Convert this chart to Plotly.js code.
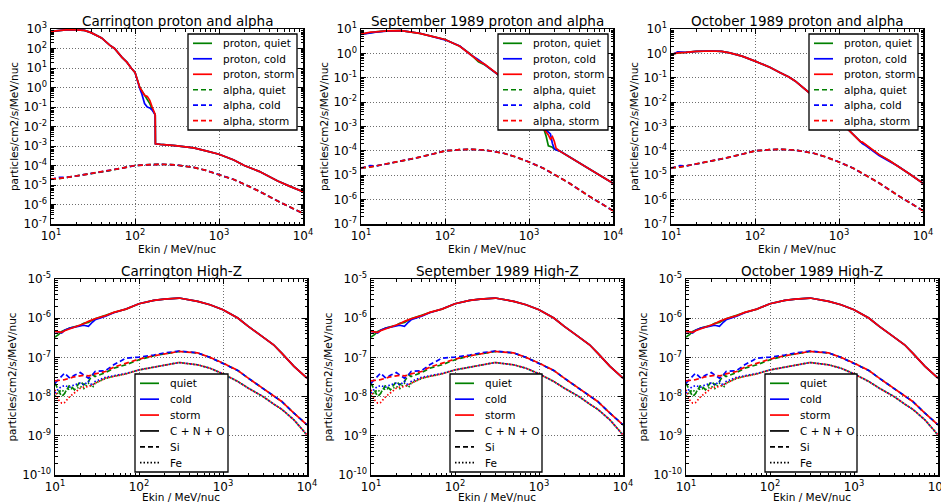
<!DOCTYPE html>
<html><head><meta charset="utf-8">
<script src="https://cdn.plot.ly/plotly-3.0.1.min.js"></script>
<style>html,body{margin:0;padding:0;background:#fff}#chart{width:941px;height:503px}</style>
</head><body><div id="chart"></div>
<script>
// ---------- DATA ----------
var panelTitles = ['Carrington proton and alpha', 'September 1989 proton and alpha', 'October 1989 proton and alpha',
                   'Carrington High-Z', 'September 1989 High-Z', 'October 1989 High-Z'];
var xTickVals = [10, 100, 1000, 10000];
var xTickText = ['10<sup>1</sup>', '10<sup>2</sup>', '10<sup>3</sup>', '10<sup>4</sup>'];
var yTickValsC = [1e-7, 1e-6, 1e-5, 1e-4, 1e-3, 1e-2, 1e-1, 1, 10, 100, 1000];
var yTickTextC = ['10<sup>-7</sup>', '10<sup>-6</sup>', '10<sup>-5</sup>', '10<sup>-4</sup>', '10<sup>-3</sup>', '10<sup>-2</sup>', '10<sup>-1</sup>', '10<sup>0</sup>', '10<sup>1</sup>', '10<sup>2</sup>', '10<sup>3</sup>'];
var yTickValsSO = [1e-7, 1e-6, 1e-5, 1e-4, 1e-3, 1e-2, 1e-1, 1, 10];
var yTickTextSO = ['10<sup>-7</sup>', '10<sup>-6</sup>', '10<sup>-5</sup>', '10<sup>-4</sup>', '10<sup>-3</sup>', '10<sup>-2</sup>', '10<sup>-1</sup>', '10<sup>0</sup>', '10<sup>1</sup>'];
var yTickValsZ = [1e-10, 1e-9, 1e-8, 1e-7, 1e-6, 1e-5];
var yTickTextZ = ['10<sup>-10</sup>', '10<sup>-9</sup>', '10<sup>-8</sup>', '10<sup>-7</sup>', '10<sup>-6</sup>', '10<sup>-5</sup>'];
var legendLabelsTop = ['proton, quiet', 'proton, cold', 'proton, storm', 'alpha, quiet', 'alpha, cold', 'alpha, storm'];
var legendLabelsBottom = ['quiet', 'cold', 'storm', 'C + N + O', 'Si', 'Fe'];

// alpha (all three events)
var EA = [10, 11, 12, 13, 15, 20, 30, 50, 70, 100, 150, 200, 300, 500, 700, 1000, 1500, 2000, 3000, 5000, 7000, 10000];
var alphaQuiet = [2.0e-5, 2.0e-5, 2.1e-5, 2.2e-5, 2.4e-5, 2.9e-5, 3.8e-5, 5.5e-5, 7.3e-5, 1.0e-4, 1.12e-4, 1.16e-4, 1.08e-4, 8.0e-5, 5.6e-5, 3.5e-5, 1.9e-5, 1.1e-5, 4.8e-6, 1.5e-6, 7.5e-7, 3.5e-7];
var alphaCold  = [1.9e-5, 2.2e-5, 2.4e-5, 2.5e-5, 2.4e-5, 2.9e-5, 3.8e-5, 5.5e-5, 7.3e-5, 1.0e-4, 1.12e-4, 1.16e-4, 1.08e-4, 8.0e-5, 5.6e-5, 3.5e-5, 1.9e-5, 1.1e-5, 4.8e-6, 1.5e-6, 7.5e-7, 3.5e-7];
var alphaStorm = [2.0e-5, 2.05e-5, 2.1e-5, 2.2e-5, 2.4e-5, 2.9e-5, 3.8e-5, 5.5e-5, 7.3e-5, 1.0e-4, 1.12e-4, 1.16e-4, 1.08e-4, 8.0e-5, 5.6e-5, 3.5e-5, 1.9e-5, 1.1e-5, 4.8e-6, 1.5e-6, 7.5e-7, 3.5e-7];

// Carrington protons
var EpC = [10, 12, 15, 20, 25, 30, 40, 50, 57, 70, 80, 90, 100, 114, 120, 130, 140, 150, 160, 168, 174, 175, 200, 300, 500, 700, 1000, 1500, 2000, 3000, 5000, 7000, 10000];
var pCQuiet = [760, 850, 900, 900, 850, 650, 350, 150, 100, 35, 20, 10, 6, 1.0, 0.7, 0.45, 0.28, 0.15, 0.08, 0.05, 0.04, 0.0013, 0.0012, 0.00105, 0.0008, 0.00056, 0.00038, 0.00019, 0.0001, 5e-5, 1.6e-5, 8.5e-6, 4.5e-6];
var pCCold  = [760, 850, 900, 900, 850, 650, 350, 150, 100, 35, 20, 10, 6, 0.9, 0.5, 0.15, 0.1, 0.09, 0.07, 0.05, 0.04, 0.0013, 0.0012, 0.00105, 0.0008, 0.00056, 0.00038, 0.00019, 0.0001, 5e-5, 1.6e-5, 8.5e-6, 4.5e-6];
var pCStorm = [760, 850, 900, 900, 850, 650, 350, 150, 100, 35, 20, 10, 6, 1.0, 0.7, 0.4, 0.35, 0.22, 0.1, 0.05, 0.04, 0.0013, 0.0012, 0.00105, 0.0008, 0.00056, 0.00038, 0.00019, 0.0001, 5e-5, 1.6e-5, 8.5e-6, 4.5e-6];

// September 1989 protons
var EpS = [10, 13, 15, 20, 30, 50, 70, 100, 150, 200, 250, 300, 400, 500, 700, 1000, 1300, 1500, 1600, 1700, 1800, 1900, 2000, 2100, 2300, 5000, 10000];
var pSQuiet = [6.2, 7.3, 7.6, 8.3, 8.5, 6.6, 5.0, 3.7, 1.95, 0.95, 0.45, 0.33, 0.16, 0.09, 0.03, 0.006, 0.0017, 0.0008, 0.0004, 0.00016, 0.00015, 0.00014, 0.00012, 0.00011, 0.0001, 2e-5, 4.7e-6];
var pSCold  = [6.0, 7.0, 7.5, 8.2, 8.6, 6.7, 5.0, 3.6, 2.0, 0.9, 0.55, 0.33, 0.16, 0.09, 0.03, 0.006, 0.0017, 0.0008, 0.0007, 0.0006, 0.0005, 0.0002, 0.00012, 0.00011, 0.0001, 2e-5, 4.7e-6];
var pSStorm = [6.2, 7.5, 7.6, 8.3, 8.5, 6.6, 5.0, 3.7, 1.95, 0.95, 0.5, 0.35, 0.16, 0.09, 0.03, 0.006, 0.0017, 0.0008, 0.0006, 0.00045, 0.0003, 0.00038, 0.00025, 0.00013, 0.0001, 2e-5, 4.7e-6];

// October 1989 protons
var EpO = [10, 12, 15, 20, 30, 40, 50, 70, 100, 150, 200, 250, 300, 400, 500, 700, 1000, 1200, 1500, 1800, 1900, 2000, 2500, 3000, 4000, 5000, 7000, 10000];
var pOQuiet = [0.9, 1.05, 1.1, 1.2, 1.25, 1.2, 1.05, 0.77, 0.48, 0.27, 0.16, 0.11, 0.074, 0.033, 0.017, 0.006, 0.0018, 0.0009, 0.00042, 0.00024, 0.00021, 0.00019, 0.00011, 7e-5, 3.9e-5, 2.4e-5, 1.1e-5, 4.7e-6];
var pOCold  = [0.85, 1.15, 1.1, 1.2, 1.25, 1.2, 1.05, 0.77, 0.48, 0.27, 0.16, 0.11, 0.074, 0.033, 0.017, 0.006, 0.0018, 0.0009, 0.00042, 0.00024, 0.0002, 0.00018, 0.0001, 6.5e-5, 3.7e-5, 2.4e-5, 1.1e-5, 4.7e-6];
var pOStorm = [0.9, 1.05, 1.1, 1.2, 1.25, 1.2, 1.05, 0.77, 0.48, 0.27, 0.16, 0.11, 0.074, 0.033, 0.017, 0.006, 0.0018, 0.0009, 0.00042, 0.00024, 0.00023, 0.0002, 0.00011, 7e-5, 3.9e-5, 2.4e-5, 1.1e-5, 4.7e-6];

// High-Z (same for the three events)
var EZ = [10, 11, 12, 13, 15, 17, 20, 22, 25, 28, 30, 40, 50, 70, 100, 150, 200, 300, 500, 700, 1000, 1500, 2000, 3000, 4000, 5000, 7000, 10000];
var cnoQuiet = [3.3e-7, 3.8e-7, 4.6e-7, 5.0e-7, 5.6e-7, 6.0e-7, 6.6e-7, 7.4e-7, 7.8e-7, 9.0e-7, 9.7e-7, 1.18e-6, 1.4e-6, 1.71e-6, 2.34e-6, 2.85e-6, 3.08e-6, 3.27e-6, 2.69e-6, 2.21e-6, 1.65e-6, 1.01e-6, 6.2e-7, 3.3e-7, 2.1e-7, 1.29e-7, 5.9e-8, 2.95e-8];
var cnoCold  = [4.6e-7, 4.5e-7, 4.2e-7, 4.9e-7, 5.6e-7, 6.0e-7, 6.4e-7, 6.6e-7, 6.2e-7, 8.0e-7, 9.1e-7, 1.12e-6, 1.38e-6, 1.71e-6, 2.34e-6, 2.85e-6, 3.08e-6, 3.27e-6, 2.69e-6, 2.21e-6, 1.65e-6, 1.01e-6, 6.2e-7, 3.3e-7, 2.1e-7, 1.29e-7, 5.9e-8, 2.95e-8];
var cnoStorm = [4.6e-7, 4.4e-7, 4.33e-7, 4.8e-7, 5.4e-7, 5.9e-7, 6.55e-7, 7.2e-7, 8.3e-7, 9.2e-7, 9.7e-7, 1.16e-6, 1.41e-6, 1.71e-6, 2.34e-6, 2.85e-6, 3.08e-6, 3.27e-6, 2.69e-6, 2.21e-6, 1.65e-6, 1.01e-6, 6.2e-7, 3.3e-7, 2.1e-7, 1.29e-7, 5.9e-8, 2.95e-8];
var siQuiet = [2.2e-8, 1.5e-8, 1.0e-8, 1.2e-8, 2.0e-8, 1.5e-8, 2.43e-8, 2.0e-8, 2.43e-8, 3.6e-8, 3.26e-8, 4.1e-8, 5.3e-8, 6.5e-8, 8.7e-8, 1.1e-7, 1.24e-7, 1.42e-7, 1.3e-7, 1.0e-7, 7.13e-8, 4.64e-8, 2.95e-8, 1.64e-8, 1.04e-8, 7.5e-9, 3.77e-9, 1.9e-9];
var siCold  = [2.2e-8, 2.68e-8, 3.3e-8, 3.96e-8, 2.95e-8, 3.5e-8, 4.1e-8, 3.6e-8, 2.95e-8, 3.6e-8, 4.37e-8, 4.6e-8, 6.47e-8, 9.57e-8, 1.02e-7, 1.15e-7, 1.3e-7, 1.45e-7, 1.3e-7, 1.0e-7, 7.13e-8, 4.64e-8, 2.95e-8, 1.64e-8, 1.04e-8, 7.5e-9, 3.77e-9, 1.9e-9];
var siStorm = [2.52e-8, 2.55e-8, 2.58e-8, 2.7e-8, 2.95e-8, 3.2e-8, 3.39e-8, 3.5e-8, 3.39e-8, 3.5e-8, 3.81e-8, 4.37e-8, 5.64e-8, 7.13e-8, 9.04e-8, 1.1e-7, 1.24e-7, 1.42e-7, 1.3e-7, 1.0e-7, 7.13e-8, 4.64e-8, 2.95e-8, 1.64e-8, 1.04e-8, 7.5e-9, 3.77e-9, 1.9e-9];
var feQuiet = [1.0e-8, 1.3e-8, 1.49e-8, 1.3e-8, 1.64e-8, 1.5e-8, 1.81e-8, 1.6e-8, 2.2e-8, 1.7e-8, 2.2e-8, 2.9e-8, 3.3e-8, 3.8e-8, 4.8e-8, 5.6e-8, 6.47e-8, 7.4e-8, 6.47e-8, 5.3e-8, 3.81e-8, 2.43e-8, 1.64e-8, 1.0e-8, 6.5e-9, 4.76e-9, 2.54e-9, 1.05e-9];
var feCold  = [1.22e-8, 1.6e-8, 1.81e-8, 1.9e-8, 1.74e-8, 2.0e-8, 2.2e-8, 2.0e-8, 2.43e-8, 1.9e-8, 2.43e-8, 3.1e-8, 3.4e-8, 3.9e-8, 4.8e-8, 5.6e-8, 6.47e-8, 7.4e-8, 6.47e-8, 5.3e-8, 3.81e-8, 2.43e-8, 1.64e-8, 1.0e-8, 6.5e-9, 4.76e-9, 2.54e-9, 1.05e-9];
var feStorm = [1.49e-8, 8.3e-9, 6.8e-9, 7.05e-9, 1.0e-8, 1.22e-8, 1.64e-8, 1.74e-8, 1.81e-8, 2.0e-8, 2.2e-8, 2.95e-8, 3.26e-8, 3.81e-8, 4.8e-8, 5.6e-8, 6.47e-8, 7.4e-8, 6.47e-8, 5.3e-8, 3.81e-8, 2.43e-8, 1.64e-8, 1.0e-8, 6.5e-9, 4.76e-9, 2.54e-9, 1.05e-9];

// ---------- STYLE / LAYOUT ----------
var W = 941, H = 503;
var FONT = 'DejaVu Sans, Bitstream Vera Sans, sans-serif';
var C = {quiet: '#008000', cold: '#0000ff', storm: '#ff0000', black: '#000000'};
var DASH = '5px,3px', DOT = '1.5px,2px';
var LW = 1.7;
var boxes = [
  {l: 51, r: 303, t: 29, b: 224}, {l: 361, r: 613, t: 29, b: 224}, {l: 671, r: 923, t: 29, b: 224},
  {l: 55, r: 307, t: 279, b: 475}, {l: 371, r: 623, t: 279, b: 475}, {l: 686, r: 938, t: 279, b: 475}
];
var legBoxes = [
  {l: 188, r: 297, t: 34, b: 130}, {l: 498, r: 608, t: 34, b: 130}, {l: 809, r: 918, t: 34, b: 130},
  {l: 135, r: 228, t: 374, b: 472}, {l: 450, r: 542, t: 374, b: 472}, {l: 765, r: 857, t: 374, b: 472}
];
var legStylesTop = [[C.quiet, 'solid'], [C.cold, 'solid'], [C.storm, 'solid'], [C.quiet, DASH], [C.cold, DASH], [C.storm, DASH]];
var legStylesBottom = [[C.quiet, 'solid'], [C.cold, 'solid'], [C.storm, 'solid'], [C.black, 'solid'], [C.black, DASH], [C.black, DOT]];
var yRanges = [[-7, 3], [-7, 1], [-7, 1], [-10, -5], [-10, -5], [-10, -5]];
var yTicks = [[yTickValsC, yTickTextC], [yTickValsSO, yTickTextSO], [yTickValsSO, yTickTextSO],
              [yTickValsZ, yTickTextZ], [yTickValsZ, yTickTextZ], [yTickValsZ, yTickTextZ]];

var traces = [];
function line(x, y, color, dash, i, name) {
  var s = i === 0 ? '' : String(i + 1);
  traces.push({type: 'scatter', mode: 'lines', x: x, y: y, name: name,
    xaxis: 'x' + s, yaxis: 'y' + s, showlegend: false,
    line: {color: color, width: LW, dash: dash || 'solid'}, hoverinfo: 'skip'});
}
var protonSets = [[EpC, pCQuiet, pCCold, pCStorm], [EpS, pSQuiet, pSCold, pSStorm], [EpO, pOQuiet, pOCold, pOStorm]];
for (var i = 0; i < 3; i++) {
  var p = protonSets[i];
  line(p[0], p[1], C.quiet, null, i, 'proton, quiet');
  line(p[0], p[2], C.cold, null, i, 'proton, cold');
  line(p[0], p[3], C.storm, null, i, 'proton, storm');
  line(EA, alphaQuiet, C.quiet, DASH, i, 'alpha, quiet');
  line(EA, alphaCold, C.cold, DASH, i, 'alpha, cold');
  line(EA, alphaStorm, C.storm, DASH, i, 'alpha, storm');
}
for (var i = 3; i < 6; i++) {
  line(EZ, cnoQuiet, C.quiet, null, i, 'C + N + O, quiet');
  line(EZ, siQuiet, C.quiet, DASH, i, 'Si, quiet');
  line(EZ, feQuiet, C.quiet, DOT, i, 'Fe, quiet');
  line(EZ, cnoCold, C.cold, null, i, 'C + N + O, cold');
  line(EZ, siCold, C.cold, DASH, i, 'Si, cold');
  line(EZ, feCold, C.cold, DOT, i, 'Fe, cold');
  line(EZ, cnoStorm, C.storm, null, i, 'C + N + O, storm');
  line(EZ, siStorm, C.storm, DASH, i, 'Si, storm');
  line(EZ, feStorm, C.storm, DOT, i, 'Fe, storm');
}

var layout = {
  width: W, height: H, margin: {l: 0, r: 0, t: 0, b: 0},
  paper_bgcolor: '#fff', plot_bgcolor: '#fff', showlegend: false,
  font: {family: FONT, color: '#000', size: 11},
  annotations: [], shapes: []
};
function px(x) { return x / W; }
function py(y) { return 1 - y / H; }
for (var i = 0; i < 6; i++) {
  var b = boxes[i], s = i === 0 ? '' : String(i + 1);
  var common = {
    showline: true, linecolor: '#000', linewidth: 1.5, mirror: 'ticks',
    ticks: 'inside', ticklen: 5, tickwidth: 1, tickcolor: '#000',
    showgrid: true, gridcolor: '#6e6e6e', griddash: '1px,2px', gridwidth: 1, zeroline: false,
    tickfont: {size: 12, color: '#000', family: FONT},
    minor: {ticks: 'inside', ticklen: 2.5, tickcolor: '#000', tickwidth: 1, showgrid: false, tickmode: 'linear', dtick: 'D1'},
    tickmode: 'array', fixedrange: true, ticklabeloverflow: 'allow'
  };
  layout['xaxis' + s] = Object.assign({}, common, {
    type: 'log', range: [1, 4], tickvals: xTickVals, ticktext: xTickText,
    domain: [px(b.l), px(b.r)], anchor: 'y' + s,
    title: {text: 'Ekin / MeV/nuc', font: {size: 10.5, family: FONT, color: '#000'}, standoff: 3}
  });
  layout['yaxis' + s] = Object.assign({}, common, {
    type: 'log', range: yRanges[i], tickvals: yTicks[i][0], ticktext: yTicks[i][1],
    domain: [py(b.b), py(b.t)], anchor: 'x' + s,
    title: {text: 'particles/cm2/s/MeV/nuc', font: {size: 10.5, family: FONT, color: '#000'}, standoff: 3}
  });
  layout.annotations.push({text: panelTitles[i], xref: 'paper', yref: 'paper',
    x: px((b.l + b.r) / 2), y: py(b.t - 8), xanchor: 'center', yanchor: 'middle',
    showarrow: false, font: {size: 13.5, family: FONT, color: '#000'}});

  // legend box drawn in paper coordinates
  var lb = legBoxes[i];
  var labels = i < 3 ? legendLabelsTop : legendLabelsBottom;
  var styles = i < 3 ? legStylesTop : legStylesBottom;
  var step = (lb.b - lb.t - 18.6) / 5;
  layout.shapes.push({type: 'rect', xref: 'paper', yref: 'paper', layer: 'above',
    x0: px(lb.l), x1: px(lb.r), y0: py(lb.b), y1: py(lb.t),
    fillcolor: '#fff', line: {color: '#000', width: 1.3}});
  for (var k = 0; k < labels.length; k++) {
    var yy = lb.t + 9.3 + k * step;
    layout.shapes.push({type: 'line', xref: 'paper', yref: 'paper', layer: 'above',
      x0: px(lb.l + 5), x1: px(lb.l + 24), y0: py(yy), y1: py(yy),
      line: {color: styles[k][0], width: LW, dash: styles[k][1]}});
    layout.annotations.push({text: labels[k], xref: 'paper', yref: 'paper',
      x: px(lb.l + 33), y: py(yy), xanchor: 'left', yanchor: 'middle', showarrow: false,
      font: {size: 10.5, family: FONT, color: '#000'}});
  }
}
Plotly.newPlot('chart', traces, layout, {staticPlot: true, displayModeBar: false});
</script></body></html>
